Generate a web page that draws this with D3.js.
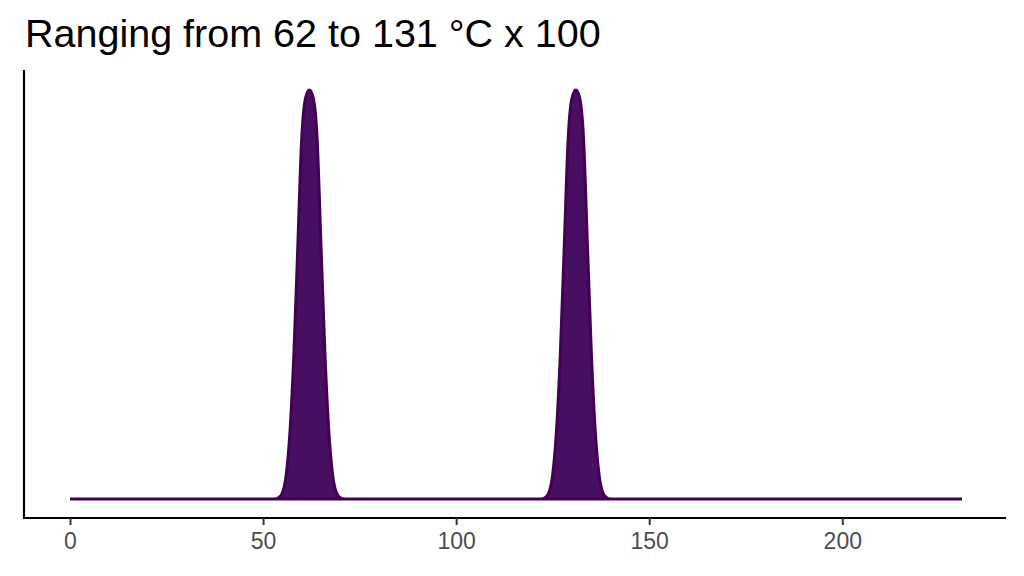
<!DOCTYPE html>
<html lang="en">
<head>
<meta charset="UTF-8">
<script src="https://d3js.org/d3.v7.min.js"></script>
<style>
  body { margin: 0; background: #fff; }
  text { font-family: "Liberation Sans", Arial, sans-serif; }
</style>
</head>
<body>
<svg id="chart" width="1024" height="576"></svg>
<script>
  // density (x in units, y relative to peak height)
  var xValues = [0, 53, 54, 55, 56, 57, 58, 59, 60, 61, 62, 63, 64, 65, 66, 67, 68, 69, 70, 71,
                 122, 123, 124, 125, 126, 127, 128, 129, 130, 131, 132, 133, 134, 135, 136, 137, 138, 139, 140, 231];
  var yValues = [0, 0, 0.003, 0.015, 0.06, 0.17, 0.36, 0.62, 0.88, 0.98, 1, 0.98, 0.88, 0.62, 0.36, 0.17, 0.06, 0.015, 0.003, 0,
                 0, 0.003, 0.015, 0.06, 0.17, 0.36, 0.62, 0.88, 0.98, 1, 0.98, 0.88, 0.62, 0.36, 0.17, 0.06, 0.015, 0.003, 0, 0];
  var xTicks = [0, 50, 100, 150, 200];
  var titleText = 'Ranging from 62 to 131 \u00B0C x 100';

  var svg = d3.select('#chart');
  var points = xValues.map(function (x, i) { return { x: x, y: yValues[i] }; });

  var x = d3.scaleLinear().domain([0, 231]).range([70, 962]);
  var y = d3.scaleLinear().domain([0, 1]).range([499, 90]);

  var area = d3.area()
    .x(function (d) { return x(d.x); })
    .y0(y(0))
    .y1(function (d) { return y(d.y); })
    .curve(d3.curveMonotoneX);

  svg.append('path')
    .datum(points)
    .attr('d', area)
    .attr('fill', '#470E61')
    .attr('stroke', '#440154')
    .attr('stroke-width', 3);

  // axes
  svg.append('line').attr('x1', 24).attr('x2', 24).attr('y1', 70).attr('y2', 519)
    .attr('stroke', '#000').attr('stroke-width', 2.2);
  svg.append('line').attr('x1', 23).attr('x2', 1006).attr('y1', 518).attr('y2', 518)
    .attr('stroke', '#000').attr('stroke-width', 2.2);

  var xAxis = svg.append('g').attr('transform', 'translate(0,518)')
    .call(d3.axisBottom(x).tickValues(xTicks).tickSize(7).tickPadding(8));
  xAxis.select('.domain').remove();
  xAxis.selectAll('line').attr('stroke', '#333').attr('stroke-width', 2);
  xAxis.selectAll('text').attr('fill', '#4d4d4d').style('font-size', '23px')
    .style('font-family', '"Liberation Sans", Arial, sans-serif');

  svg.append('text').attr('x', 25).attr('y', 47)
    .style('font-size', '39.5px').attr('fill', '#000')
    .text(titleText);
</script>
</body>
</html>
